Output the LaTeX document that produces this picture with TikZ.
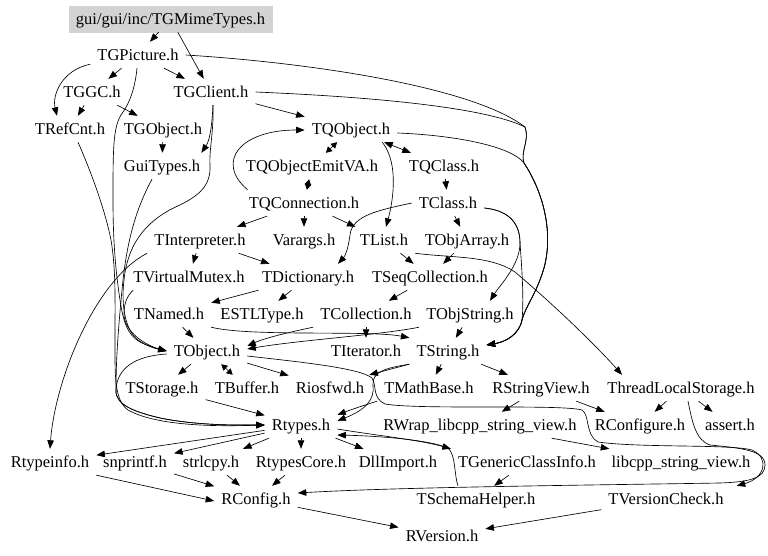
\documentclass[tikz,border=0pt]{standalone}
\usepackage{fontspec}
\setmainfont{Liberation Serif}
\usetikzlibrary{arrows.meta}
\definecolor{lgray}{RGB}{211,211,211}
\begin{document}
\begin{tikzpicture}[x=1pt,y=-1pt,
  nd/.style={font=\fontsize{16.5}{18}\selectfont, inner xsep=7pt, inner ysep=0pt, minimum height=26pt, text height=13.5pt, text depth=2.5pt},
  rootnd/.style={nd, fill=lgray, draw=lgray},
  dep/.style={draw, line width=0.65pt, -{Triangle[length=8.5pt,width=6.5pt]}},
  dep2/.style={draw, line width=0.65pt, {Triangle[length=6pt,width=6.5pt]}-{Triangle[length=6pt,width=6.5pt]}},
  dep3/.style={draw, line width=0.65pt, {Triangle[length=8.5pt,width=6.5pt]}-{Triangle[length=8.5pt,width=6.5pt]}}]
\useasboundingbox (0,0) rectangle (768,556);
\fill[white] (0,0) rectangle (768,556);

\node[rootnd] (root) at (170.5,19) {gui/gui/inc/TGMimeTypes.h};
\node[nd] (TGPicture) at (138,55) {TGPicture.h};
\node[nd] (TGGC) at (92,92) {TGGC.h};
\node[nd] (TGClient) at (211,92) {TGClient.h};
\node[nd] (TRefCnt) at (70,129) {TRefCnt.h};
\node[nd] (TGObject) at (163,129) {TGObject.h};
\node[nd] (TQObject) at (351,129) {TQObject.h};
\node[nd] (GuiTypes) at (162,166) {GuiTypes.h};
\node[nd] (TQObjectEmitVA) at (312,166) {TQObjectEmitVA.h};
\node[nd] (TQClass) at (444,166) {TQClass.h};
\node[nd] (TQConnection) at (304,203) {TQConnection.h};
\node[nd] (TClass) at (448,203) {TClass.h};
\node[nd] (TInterpreter) at (200,240) {TInterpreter.h};
\node[nd] (Varargs) at (304,240) {Varargs.h};
\node[nd] (TList) at (384,240) {TList.h};
\node[nd] (TObjArray) at (467,240) {TObjArray.h};
\node[nd] (TVirtualMutex) at (189,277) {TVirtualMutex.h};
\node[nd] (TDictionary) at (308,277) {TDictionary.h};
\node[nd] (TSeqCollection) at (430,277) {TSeqCollection.h};
\node[nd] (TNamed) at (169,314) {TNamed.h};
\node[nd] (ESTLType) at (262,314) {ESTLType.h};
\node[nd] (TCollection) at (366,314) {TCollection.h};
\node[nd] (TObjString) at (470,314) {TObjString.h};
\node[nd] (TObject) at (207,351) {TObject.h};
\node[nd] (TIterator) at (366,351) {TIterator.h};
\node[nd] (TString) at (448,351) {TString.h};
\node[nd] (TStorage) at (162,388) {TStorage.h};
\node[nd] (TBuffer) at (247,388) {TBuffer.h};
\node[nd] (Riosfwd) at (330,388) {Riosfwd.h};
\node[nd] (TMathBase) at (429,388) {TMathBase.h};
\node[nd] (RStringView) at (541,388) {RStringView.h};
\node[nd] (TLS) at (681,388) {ThreadLocalStorage.h};
\node[nd] (Rtypes) at (301,425) {Rtypes.h};
\node[nd] (RWrap) at (480,425) {RWrap\_libcpp\_string\_view.h};
\node[nd] (RConfigure) at (640,425) {RConfigure.h};
\node[nd] (assert) at (730,425) {assert.h};
\node[nd] (Rtypeinfo) at (50,462) {Rtypeinfo.h};
\node[nd] (snprintf) at (135,462) {snprintf.h};
\node[nd] (strlcpy) at (211,462) {strlcpy.h};
\node[nd] (RtypesCore) at (301,462) {RtypesCore.h};
\node[nd] (DllImport) at (398,462) {DllImport.h};
\node[nd] (TGCI) at (527,462) {TGenericClassInfo.h};
\node[nd] (libcpp) at (681,462) {libcpp\_string\_view.h};
\node[nd] (RConfig) at (256,499) {RConfig.h};
\node[nd] (TSchemaHelper) at (476,499) {TSchemaHelper.h};
\node[nd] (TVersionCheck) at (666,499) {TVersionCheck.h};
\node[nd] (RVersion) at (442,536) {RVersion.h};

% top
\path[dep] (root) -- (TGPicture);
\path[dep] (root) -- (TGClient);
\path[dep] (TGPicture) -- (TGGC);
\path[dep] (TGPicture) -- (TGClient);
\path[dep] ([yshift=4pt]TGPicture.south west) .. controls (62,70) and (52,95) .. ([xshift=-13pt]TRefCnt.north);
\path[dep] (TGGC) -- (TRefCnt);
\path[dep] (TGGC) -- (TGObject);
\path[dep] (TGObject) -- (GuiTypes);
\path[dep] ([xshift=2pt]TGClient.south) .. controls (212,125) and (210,140) .. ([xshift=-6pt]GuiTypes.north east);
\path[dep] (TGClient) -- (TQObject);

% left long routes
\path[dep] ([xshift=-1pt]TGPicture.south) .. controls (135,88) and (130,103) .. (121,115)
  .. controls (113,128) and (113,150) .. (113,200)
  .. controls (113,250) and (117,280) .. (120,300)
  .. controls (123,320) and (127,335) .. (140,342)
  .. controls (150,347) and (158,349) .. (TObject.west);
\path[dep] ([xshift=8pt]TRefCnt.south) .. controls (88,165) and (104,205) .. (111,240)
  .. controls (116,270) and (115,300) .. (115,340)
  .. controls (115,375) and (114,400) .. (128,410)
  .. controls (160,428) and (230,426) .. (Rtypes.west);
\path[dep] ([xshift=2pt]TGClient.south) .. controls (214,130) and (209,150) .. (210,165)
  .. controls (211,185) and (200,195) .. (180,205)
  .. controls (150,218) and (128,240) .. (124,280)
  .. controls (121,305) and (125,330) .. (138,340)
  .. controls (148,347) and (158,349) .. (TObject.west);
\path[dep] ([xshift=-10pt]GuiTypes.south) .. controls (138,205) and (128,235) .. (123,280)
  .. controls (118,330) and (116,360) .. (116,390)
  .. controls (115,405) and (135,412) .. (160,418)
  .. controls (200,426) and (240,425) .. (Rtypes.west);
\path[dep] ([yshift=-3pt]TObject.west) .. controls (135,356) and (117,368) .. (116,390)
  .. controls (115,405) and (135,412) .. (160,418)
  .. controls (200,426) and (240,425) .. (Rtypes.west);
\path[dep] ([xshift=7pt]TVirtualMutex.south west) .. controls (127,296) and (124,303) .. (124,315)
  .. controls (125,332) and (145,345) .. (TObject.west);

% right long routes to TString
\path[dep] (TGPicture.east) .. controls (300,62) and (470,85) .. (525,127)
  .. controls (530,140) and (520,152) .. (524,163)
  .. controls (545,195) and (553,235) .. (544,268)
  .. controls (536,295) and (526,305) .. (522,320)
  .. controls (519,335) and (505,342) .. ([yshift=6pt]TString.east);
\path[dep] (TGClient.east) .. controls (350,96) and (480,105) .. (525,127)
  .. controls (530,140) and (520,152) .. (524,163)
  .. controls (545,195) and (553,235) .. (544,268)
  .. controls (536,295) and (526,305) .. (522,320)
  .. controls (519,335) and (505,342) .. ([yshift=6pt]TString.east);
\path[dep] ([yshift=-4pt]TQObject.east) .. controls (450,135) and (510,145) .. (524,163)
  .. controls (545,195) and (553,235) .. (544,268)
  .. controls (536,295) and (526,305) .. (522,320)
  .. controls (519,335) and (505,342) .. ([yshift=6pt]TString.east);

% TQObject cluster
\path[dep2] (TQObject) -- (TQObjectEmitVA);
\path[dep2] (TQObjectEmitVA) -- (TQConnection);
\path[dep3] (TQObject) -- (TQClass);
\path[dep] ([xshift=6pt]TQConnection.north west) .. controls (215,162) and (240,130) .. ([yshift=-1pt]TQObject.west);
\path[dep] ([xshift=-15pt]TQObject.south east) .. controls (400,165) and (392,205) .. ([xshift=2pt]TList.north);
\path[dep] (TQClass) -- (TClass);
\path[dep] (TQConnection) -- (TInterpreter);
\path[dep] (TQConnection) -- (Varargs);
\path[dep] (TQConnection) -- (TList);
\path[dep] (TClass.west) .. controls (380,210) and (352,215) .. (350,235)
  .. controls (348,250) and (345,256) .. ([xshift=30pt]TDictionary.north);
\path[dep] (TClass) -- (TObjArray);
\path[dep] ([yshift=-5pt]TClass.east) .. controls (505,210) and (520,220) .. (520,243)
  .. controls (520,265) and (500,285) .. ([xshift=20pt]TObjString.north);
\path[dep] ([yshift=-5pt]TClass.east) .. controls (505,210) and (520,220) .. (520,243)
  .. controls (522,270) and (524,300) .. (522,320)
  .. controls (519,335) and (505,342) .. ([yshift=6pt]TString.east);
\path[dep] (TList) -- (TSeqCollection);
\path[dep] (TObjArray) -- (TSeqCollection);
\path[dep] (TList.south east) .. controls (450,258) and (490,255) .. (515,272)
  .. controls (560,310) and (600,350) .. ([xshift=-59pt]TLS.north);

% middle
\path[dep] (TInterpreter) -- (TVirtualMutex);
\path[dep] (TInterpreter) -- (TDictionary);
\path[dep] (TInterpreter.south west) .. controls (95,280) and (55,380) .. (Rtypeinfo.north);
\path[dep] (TDictionary) -- (TNamed);
\path[dep] (TDictionary) -- (ESTLType);
\path[dep] (TSeqCollection) -- (TCollection);
\path[dep] (TNamed) -- (TObject);
\path[dep] (TNamed.south east) .. controls (250,337) and (370,330) .. (TString.north west);
\path[dep] (TCollection.south west) .. controls (290,332) and (265,338) .. ([yshift=5pt]TObject.east);
\path[dep] (TObjString.south west) .. controls (380,335) and (300,340) .. ([yshift=2pt]TObject.east);
\path[dep] (TCollection) -- (TIterator);
\path[dep] (TObjString) -- (TString);

% TObject / TString row
\path[dep] (TObject) -- (TStorage);
\path[dep2] (TObject) -- (TBuffer);
\path[dep] (TObject) -- (Riosfwd);
\path[dep] (TString.south west) -- ([xshift=-2pt]Riosfwd.north east);
\path[dep] (TString) -- (TMathBase);
\path[dep] (TString) -- (RStringView);
\path[dep] (TString.south west) .. controls (385,368) and (372,372) .. (373,385)
  .. controls (375,400) and (365,410) .. ([yshift=4pt]Rtypes.east);
\path[dep] (TMathBase.south west) .. controls (365,405) and (350,410) .. ([yshift=10pt]Rtypes.east);
\path[dep] ([yshift=-5pt]TObject.east) .. controls (300,362) and (360,368) .. (372,378)
  .. controls (377,386) and (372,398) .. (385,404)
  .. controls (420,410) and (560,404) .. (582,410)
  .. controls (590,415) and (585,435) .. (598,442)
  .. controls (640,448) and (730,444) .. (752,450)
  .. controls (770,458) and (765,478) .. ([xshift=6pt]TVersionCheck.north east);
\path[dep] (TStorage) -- (Rtypes);
\path[dep] (RStringView) -- (RConfigure);
\path[dep] (RStringView) -- (RWrap);
\path[dep] (RWrap) -- (libcpp);
\path[dep] (TLS) -- (RConfigure);
\path[dep] (TLS) -- (assert);
\path[dep] ([xshift=7pt]TLS.south) .. controls (692,420) and (695,440) .. (710,445)
  .. controls (740,448) and (765,450) .. (765,465)
  .. controls (765,478) and (750,482) .. (720,483)
  .. controls (600,485) and (400,487) .. ([yshift=6pt]RConfig.east);

% bottom
\path[dep] (Rtypes) -- (Rtypeinfo);
\path[dep] (Rtypes) -- (snprintf);
\path[dep] (Rtypes) -- (strlcpy);
\path[dep] (Rtypes) -- (RtypesCore);
\path[dep] (Rtypes) -- (DllImport);
\path[dep] ([yshift=-4pt]Rtypes.east) .. controls (380,436) and (420,440) .. (TGCI.north west);
\path[dep] ([xshift=-18pt]TSchemaHelper.north) .. controls (454,475) and (456,455) .. (448,448)
  .. controls (430,440) and (380,436) .. ([yshift=-10pt]Rtypes.east);
\path[dep] (TGCI) -- (TSchemaHelper);
\path[dep] (Rtypeinfo.south east) -- ([yshift=-2pt]RConfig.west);
\path[dep] (snprintf) -- (RConfig);
\path[dep] (strlcpy) -- (RConfig);
\path[dep] (RtypesCore) -- (RConfig);
\path[dep] (RConfig) -- (RVersion);
\path[dep] (TVersionCheck) -- (RVersion);
\end{tikzpicture}
\end{document}
